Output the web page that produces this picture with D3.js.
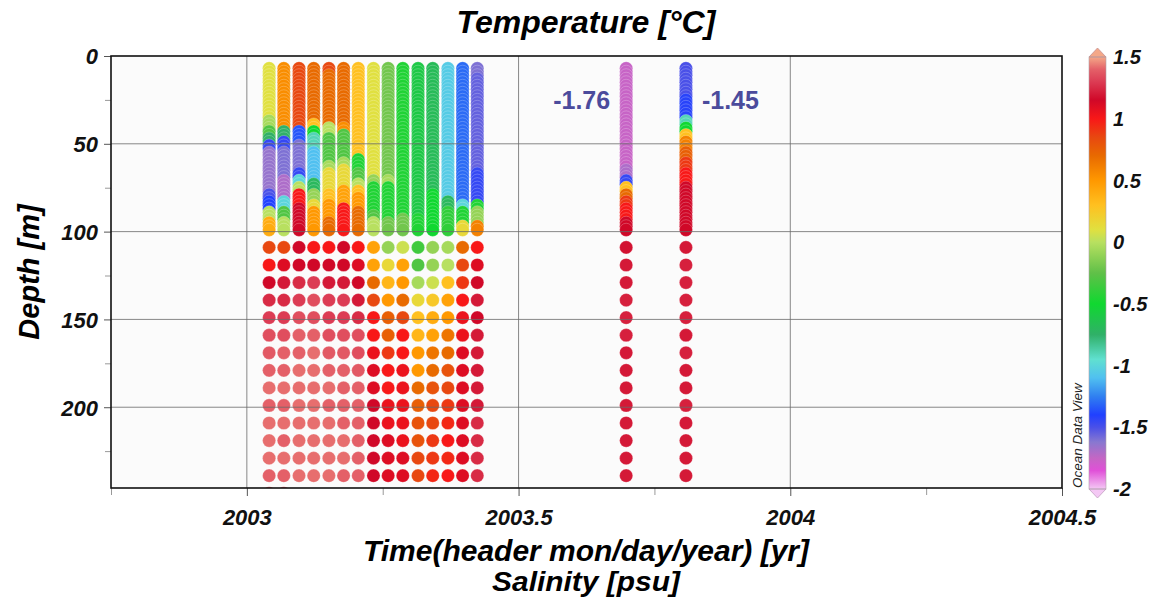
<!DOCTYPE html>
<html>
<head>
<meta charset="utf-8">
<script src="https://cdn.jsdelivr.net/npm/d3@7/dist/d3.min.js"></script>
<style>
  body { margin: 0; background: #fff; }
  text { font-family: "Liberation Sans", Arial, sans-serif; }
</style>
</head>
<body>
<div id="chart"></div>
<script>
// station times (decimal year)
const stationYears = [2003.041, 2003.068, 2003.096, 2003.123, 2003.151, 2003.178, 2003.205,
  2003.233, 2003.260, 2003.287, 2003.315, 2003.342, 2003.370, 2003.397, 2003.424,
  2003.698, 2003.808];

// sampled depths in the upper 100 m (dense) and below (every 10 m)
const upperDepths = [7, 9, 11, 13, 15, 17, 19, 21, 23, 25, 27, 29, 31, 33, 35, 37, 39, 41, 43,
  45, 47, 49, 51, 53, 55, 57, 59, 61, 63, 65, 67, 69, 71, 73, 75, 77, 79, 81, 83, 85, 87, 89,
  91, 93, 95, 97, 99];
const lowerDepths = [109, 119, 129, 139, 149, 159, 169, 179, 189, 199, 209, 219, 229, 239];

// upper profiles: [from depth, temperature] steps
const upperProfiles = [
  [[7, 0.1], [37, -0.05], [43, -0.3], [47, -0.75], [51, -1.45], [55, -1.65], [79, -1.5], [83, -1.4], [89, 0.0], [95, 0.4]],
  [[7, 0.55], [43, -0.75], [49, -1.45], [55, -1.6], [71, -1.7], [83, -1.0], [89, -0.3], [95, 0.0]],
  [[7, 0.85], [43, -1.35], [51, -1.6], [67, -1.45], [71, -1.0], [75, 0.0], [79, 1.0], [87, 1.15]],
  [[7, 0.7], [39, 0.3], [43, -0.5], [47, -0.9], [55, -1.1], [73, -0.7], [79, -0.1], [85, 0.15], [89, 0.5]],
  [[7, 0.85], [11, 0.7], [41, 0.0], [47, -0.3], [63, -0.05], [67, 0.15], [79, 0.3], [85, 0.5], [95, 0.7]],
  [[7, 0.7], [41, 0.55], [45, -0.3], [61, -0.05], [65, 0.15], [77, 0.45], [87, 1.0]],
  [[7, 0.3], [59, -0.45], [67, -0.3], [73, 0.0], [77, 0.3], [81, 0.5], [89, 0.7]],
  [[7, 0.1], [71, -0.1], [75, -0.45], [91, -0.3], [95, 0.0]],
  [[7, -0.2], [71, -0.05], [75, -0.45], [95, -0.2]],
  [[7, -0.45], [93, -0.2]],
  [[7, -0.6], [93, -0.45]],
  [[7, -0.68], [79, -0.5]],
  [[7, -1.05], [83, -0.7], [89, -0.4]],
  [[7, -1.3], [85, -1.0], [89, -0.45], [97, 0.15]],
  [[7, -1.6], [13, -1.55], [67, -1.45], [85, -0.45], [89, -0.1], [97, 0.6]],
  [[7, -1.76], [65, -1.7], [71, -1.45], [75, 0.3], [79, 0.7], [83, 0.9], [87, 1.0], [95, 1.15]],
  [[7, -1.5], [25, -1.42], [37, -0.9], [41, -0.5], [45, 0.3], [49, 0.6], [55, 0.75], [61, 0.9], [67, 1.0], [75, 1.15]]
];

// temperatures at lowerDepths, one row per station
const lowerTemps = [
  [0.85, 1.0, 1.15, 1.25, 1.3, 1.35, 1.38, 1.4, 1.42, 1.4, 1.42, 1.42, 1.42, 1.4],
  [0.85, 1.1, 1.2, 1.25, 1.3, 1.35, 1.4, 1.4, 1.42, 1.4, 1.42, 1.4, 1.42, 1.4],
  [1.15, 1.15, 1.25, 1.3, 1.35, 1.4, 1.4, 1.42, 1.42, 1.42, 1.42, 1.42, 1.42, 1.42],
  [1.0, 1.15, 1.3, 1.35, 1.35, 1.4, 1.42, 1.42, 1.42, 1.42, 1.42, 1.42, 1.42, 1.42],
  [1.0, 1.15, 1.2, 1.3, 1.3, 1.35, 1.38, 1.4, 1.42, 1.4, 1.42, 1.42, 1.42, 1.42],
  [1.15, 1.15, 1.2, 1.3, 1.3, 1.35, 1.38, 1.4, 1.4, 1.4, 1.4, 1.42, 1.42, 1.4],
  [1.0, 1.1, 1.15, 1.2, 1.25, 1.35, 1.35, 1.38, 1.4, 1.4, 1.4, 1.4, 1.4, 1.4],
  [0.45, 0.45, 0.7, 0.85, 1.0, 1.0, 1.05, 1.1, 1.1, 1.15, 1.15, 1.15, 1.15, 1.15],
  [-0.1, 0.15, 0.35, 0.5, 0.75, 0.75, 0.9, 1.0, 1.0, 1.05, 1.05, 1.1, 1.1, 1.1],
  [0.05, 0.45, 0.5, 0.7, 0.85, 1.0, 1.0, 1.05, 1.05, 1.05, 1.05, 1.05, 1.1, 1.1],
  [-0.35, -0.3, -0.05, 0.15, 0.3, 0.35, 0.5, 0.5, 0.7, 0.75, 0.8, 0.8, 0.85, 0.85],
  [-0.1, -0.1, 0.05, 0.25, 0.4, 0.45, 0.65, 0.7, 0.8, 0.85, 0.85, 0.9, 0.9, 0.95],
  [-0.05, 0.0, 0.3, 0.45, 0.5, 0.65, 0.7, 0.8, 0.85, 0.9, 0.95, 1.0, 0.95, 1.0],
  [0.7, 0.85, 0.9, 1.0, 1.05, 1.05, 1.1, 1.1, 1.1, 1.1, 1.1, 1.1, 1.1, 1.1],
  [1.0, 1.1, 1.15, 1.2, 1.15, 1.2, 1.2, 1.2, 1.2, 1.2, 1.25, 1.25, 1.25, 1.25],
  [1.18, 1.2, 1.2, 1.22, 1.22, 1.22, 1.2, 1.2, 1.2, 1.2, 1.2, 1.2, 1.2, 1.2],
  [1.2, 1.22, 1.22, 1.22, 1.22, 1.2, 1.22, 1.2, 1.2, 1.22, 1.2, 1.2, 1.2, 1.2]
];

// two half-hidden dots under the bottom axis
const deepExtra = [[2003.041, 249, 1.4], [2003.068, 249, 1.4]];

// colour map (ODV-like)
const cmapValues = [-2.0, -1.85, -1.75, -1.62, -1.5, -1.4, -1.25, -1.1, -0.95, -0.75, -0.5, -0.25,
  0.0, 0.1, 0.3, 0.5, 0.7, 0.85, 1.0, 1.15, 1.3, 1.4, 1.5];
const cmapColors = ["#f4c8f4", "#e050d8", "#c466c4", "#8878d0", "#4a50e8", "#2040ff", "#3080f0",
  "#50c0f0", "#60e0d0", "#30b068", "#10d830", "#60c048", "#b8e060", "#e0e040", "#ffc020",
  "#ff9800", "#e86a00", "#e84810", "#f81818", "#d00828", "#dc3c54", "#e46068", "#f4a888"];

const xTicks = [2003, 2003.5, 2004, 2004.5];
const xMinor = [2002.75, 2003.25, 2003.75, 2004.25];
const yTicks = [0, 50, 100, 150, 200];
const yMinor = [25, 75, 125, 175, 225];
const cTicks = [1.5, 1, 0.5, 0, -0.5, -1, -1.5, -2];

const notes = [{ text: "-1.76", year: 2003.698, depth: 30, side: "left" },
               { text: "-1.45", year: 2003.808, depth: 30, side: "right" }];

const width = 1159, height = 599;
const plot = { left: 111, right: 1062, top: 56, bottom: 488 };

const svg = d3.select("#chart").append("svg")
  .attr("width", width).attr("height", height);

const x = d3.scaleLinear().domain([2002.75, 2004.5]).range([plot.left, plot.right]);
const y = d3.scaleLinear().domain([0, 246]).range([plot.top, plot.bottom]);
const color = d3.scaleLinear().domain(cmapValues).range(cmapColors)
  .interpolate(d3.interpolateRgb).clamp(true);

// build points
let points = [];
stationYears.forEach((yr, i) => {
  const steps = upperProfiles[i];
  upperDepths.forEach(dep => {
    let t = steps[0][1];
    steps.forEach(s => { if (s[0] <= dep) t = s[1]; });
    points.push({ year: yr, depth: dep, temp: t });
  });
  lowerDepths.forEach((dep, j) => points.push({ year: yr, depth: dep, temp: lowerTemps[i][j] }));
});
deepExtra.forEach(d => points.push({ year: d[0], depth: d[1], temp: d[2] }));

svg.append("rect")
  .attr("x", plot.left).attr("y", plot.top)
  .attr("width", plot.right - plot.left).attr("height", plot.bottom - plot.top)
  .attr("fill", "#fbfbfb");

svg.append("clipPath").attr("id", "clip").append("rect")
  .attr("x", plot.left).attr("y", plot.top)
  .attr("width", plot.right - plot.left).attr("height", plot.bottom - plot.top);

svg.append("g").attr("clip-path", "url(#clip)")
  .selectAll("circle")
  .data(points)
  .join("circle")
  .attr("cx", d => x(d.year))
  .attr("cy", d => y(d.depth))
  .attr("r", 6.6)
  .attr("fill", d => color(d.temp))
  .attr("stroke", "#fff")
  .attr("stroke-opacity", 0.3)
  .attr("stroke-width", 0.8);

// grid lines (drawn over the dots, like the original)
const grid = svg.append("g").attr("stroke", "#6a6a6a").attr("stroke-opacity", 0.8).attr("stroke-width", 1);
grid.selectAll(".gx").data(xTicks.slice(0, 3)).join("line")
  .attr("x1", d => x(d)).attr("x2", d => x(d))
  .attr("y1", plot.top).attr("y2", plot.bottom);
grid.selectAll(".gy").data(yTicks.slice(1)).join("line")
  .attr("x1", plot.left).attr("x2", plot.right)
  .attr("y1", d => y(d)).attr("y2", d => y(d));

// axes
const xAxis = svg.append("g").attr("transform", `translate(0,${plot.bottom})`)
  .call(d3.axisBottom(x).tickValues(xTicks).tickSize(8).tickPadding(13).tickFormat(d3.format("")));
const xAxisMinor = svg.append("g").attr("transform", `translate(0,${plot.bottom})`)
  .call(d3.axisBottom(x).tickValues(xMinor).tickSize(7).tickFormat(""));
const yAxis = svg.append("g").attr("transform", `translate(${plot.left},0)`)
  .call(d3.axisLeft(y).tickValues(yTicks).tickSize(7).tickPadding(6));
const yAxisMinor = svg.append("g").attr("transform", `translate(${plot.left},0)`)
  .call(d3.axisLeft(y).tickValues(yMinor).tickSize(6).tickFormat(""));

[xAxis, xAxisMinor, yAxis, yAxisMinor].forEach(a => a.select(".domain").remove());
[xAxisMinor, yAxisMinor].forEach(a => a.selectAll("line").attr("stroke", "#999"));
[xAxis, yAxis].forEach(a => a.selectAll("line").attr("stroke", "#555"));

xAxis.selectAll("text")
  .attr("font-size", 22).attr("font-weight", "bold").attr("font-style", "italic")
  .attr("fill", "#111");
yAxis.selectAll("text")
  .attr("font-size", 22).attr("font-weight", "bold").attr("font-style", "italic")
  .attr("fill", "#111").attr("dy", "0.36em");

// frame
svg.append("rect")
  .attr("x", plot.left).attr("y", plot.top)
  .attr("width", plot.right - plot.left).attr("height", plot.bottom - plot.top)
  .attr("fill", "none").attr("stroke", "#111").attr("stroke-width", 1.6);

// annotations
svg.selectAll(".note").data(notes).join("text")
  .attr("x", d => x(d.year) + (d.side === "left" ? -16 : 16))
  .attr("y", d => y(d.depth))
  .attr("text-anchor", d => d.side === "left" ? "end" : "start")
  .attr("font-size", 25).attr("font-weight", "bold")
  .attr("fill", "#4b4b9c")
  .text(d => d.text);

// titles
svg.append("text").attr("x", 586).attr("y", 33).attr("text-anchor", "middle")
  .attr("font-size", 32).attr("font-weight", "bold").attr("font-style", "italic")
  .text("Temperature [°C]");

svg.append("text").attr("transform", "translate(39,272) rotate(-90)").attr("text-anchor", "middle")
  .attr("font-size", 29).attr("font-weight", "bold").attr("font-style", "italic")
  .text("Depth [m]");

svg.append("text").attr("x", 586).attr("y", 561).attr("text-anchor", "middle")
  .attr("font-size", 29).attr("font-weight", "bold").attr("font-style", "italic")
  .attr("textLength", 446).attr("lengthAdjust", "spacingAndGlyphs")
  .text("Time(header mon/day/year) [yr]");

svg.append("text").attr("x", 586).attr("y", 591).attr("text-anchor", "middle")
  .attr("font-size", 28).attr("font-weight", "bold").attr("font-style", "italic")
  .attr("textLength", 188).attr("lengthAdjust", "spacingAndGlyphs")
  .text("Salinity [psu]");

// colour bar
const cb = { x: 1089, w: 17 };
const cy = d3.scaleLinear().domain([-2, 1.5]).range([489, 57]);

const grad = svg.append("defs").append("linearGradient")
  .attr("id", "cgrad").attr("x1", 0).attr("x2", 0).attr("y1", 1).attr("y2", 0);
grad.selectAll("stop").data(cmapValues).join("stop")
  .attr("offset", d => (d + 2) / 3.5)
  .attr("stop-color", d => color(d));

svg.append("rect")
  .attr("x", cb.x).attr("y", cy(1.5))
  .attr("width", cb.w).attr("height", cy(-2) - cy(1.5))
  .attr("fill", "url(#cgrad)");

svg.append("path")
  .attr("d", `M${cb.x},${cy(1.5)} L${cb.x + cb.w / 2},${cy(1.5) - 9} L${cb.x + cb.w},${cy(1.5)} Z`)
  .attr("fill", color(1.5)).attr("stroke", "#c89090").attr("stroke-width", 0.8);
svg.append("path")
  .attr("d", `M${cb.x},${cy(-2)} L${cb.x + cb.w / 2},${cy(-2) + 9} L${cb.x + cb.w},${cy(-2)} Z`)
  .attr("fill", color(-2)).attr("stroke", "#c0a0c0").attr("stroke-width", 0.8);
svg.append("rect")
  .attr("x", cb.x).attr("y", cy(1.5))
  .attr("width", cb.w).attr("height", cy(-2) - cy(1.5))
  .attr("fill", "none").attr("stroke", "#b0a0a8").attr("stroke-width", 0.6);

svg.selectAll(".ctick").data(cTicks).join("text")
  .attr("x", 1113).attr("y", d => cy(d)).attr("dy", "0.36em")
  .attr("font-size", 20).attr("font-weight", "bold").attr("font-style", "italic")
  .attr("fill", "#111")
  .text(d => d);

svg.append("text").attr("transform", "translate(1082,488) rotate(-90)")
  .attr("font-size", 13.5).attr("font-style", "italic").attr("fill", "#222")
  .text("Ocean Data View");
</script>
</body>
</html>
